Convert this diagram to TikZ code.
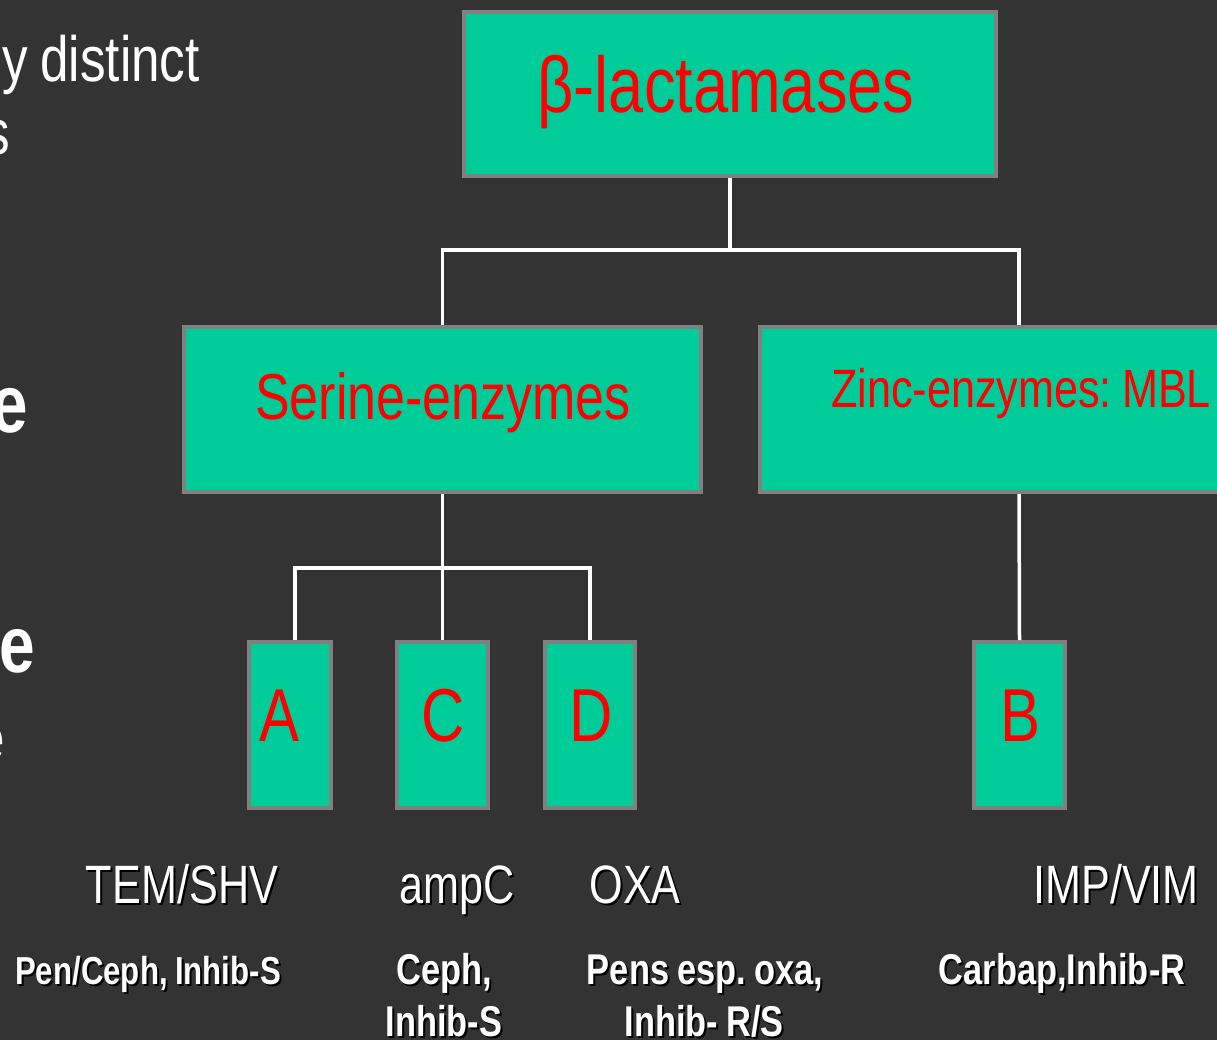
\documentclass[tikz,border=0pt]{standalone}
\usepackage{fontspec}
\setmainfont[FakeStretch=0.8,WordSpace=0.85]{Liberation Sans}
\definecolor{bg}{HTML}{333333}
\definecolor{boxfill}{HTML}{00CC99}
\definecolor{boxline}{HTML}{808080}
\definecolor{txtred}{HTML}{FF0000}
\newcommand\fs[1]{\fontsize{#1}{#1}\selectfont}
\newcommand\shd[1]{\makebox[0pt][l]{\hspace{2pt}\raisebox{-2pt}{\color{black}#1}}#1}
\frenchspacing
\begin{document}
\begin{tikzpicture}[x=1pt,y=-1pt,
  bx/.style={draw=boxline,line width=4pt,fill=boxfill,inner sep=0pt},
  conn/.style={draw=white,line width=3.5pt},
  redtxt/.style={text=txtred,inner sep=0pt,anchor=base},
  lbl/.style={text=white,inner sep=0pt,anchor=base,font=\fs{54}},
  blbl/.style={text=white,inner sep=0pt,anchor=base,font=\fs{43}\bfseries},
  frag/.style={text=white,inner sep=0pt,anchor=base east}]
\fill[bg] (0,0) rectangle (1217,1040);
\useasboundingbox (0,0) rectangle (1217,1040);
\clip (0,0) rectangle (1217,1040);

% cut-off text at the left edge
\node[frag,font=\fs{64}] (f1) at (200,82) {y distinct};
\node[frag,font=\fs{64}] (f2) at (10,155) {s};
\node[frag,font=\fs{82}\bfseries] (f3) at (28,432) {e};
\node[frag,font=\fs{80}\bfseries] (f4) at (35,672) {e};
\node[frag,font=\fs{64}] (f5) at (5,760) {e};

% boxes
\node[bx,minimum width=532pt,minimum height=164pt] (top) at (730,94) {};
\node[bx,minimum width=517pt,minimum height=165pt] (ser) at (442.5,409.5) {};
\node[bx,minimum width=518pt,minimum height=165pt] (zinc) at (1019,409.5) {};
\node[bx,minimum width=82pt,minimum height=166pt] (A) at (290,725) {};
\node[bx,minimum width=91pt,minimum height=166pt] (C) at (442.5,725) {};
\node[bx,minimum width=90pt,minimum height=166pt] (D) at (590,725) {};
\node[bx,minimum width=91pt,minimum height=166pt] (B) at (1019.5,725) {};

% connectors
\draw[conn] (top.south) -- (top.south |- 0,250);
\draw[conn] (ser.north) -- (ser.north |- 0,250) -| (zinc.north);
\draw[conn] (ser.south) -- (C.north);
\draw[conn] ([xshift=5pt]A.north) -- ([xshift=5pt]A.north |- 0,568) -| (D.north);
\draw[conn] (zinc.south) -- (B.north);

% box texts
\node[redtxt,font=\fs{79}] (toptxt) at (726,113) {β-lactamases};
\node[redtxt,font=\fs{65}] (sertxt) at (443,419) {Serine-enzymes};
\node[redtxt,font=\fs{54}] (zinctxt) at (1021,407) {Zinc-enzymes: MBL};
\node[redtxt,font=\fs{75}] (Atxt) at (280,741) {A};
\node[redtxt,font=\fs{75}] (Ctxt) at (443,741) {C};
\node[redtxt,font=\fs{75}] (Dtxt) at (591,741) {D};
\node[redtxt,font=\fs{75}] (Btxt) at (1020,741) {B};

% family labels
\node[lbl] (tem) at (182,903) {\shd{TEM/SHV}};
\node[lbl] (ampc) at (457,903) {\shd{ampC}};
\node[lbl] (oxa) at (635,903) {\shd{OXA}};
\node[lbl] (imp) at (1116,903) {\shd{IMP/VIM}};

% substrate labels
\node[blbl,font=\fs{39}\bfseries] (penceph) at (148,984) {\shd{Pen/Ceph, Inhib-S}};
\node[blbl] (ceph1) at (444,984) {\shd{Ceph,}};
\node[blbl] (ceph2) at (444,1036) {\shd{Inhib-S}};
\node[blbl] (pens1) at (705,984) {\shd{Pens esp. oxa,}};
\node[blbl] (pens2) at (704,1036) {\shd{Inhib- R/S}};
\node[blbl] (carb) at (1062,984) {\shd{Carbap,Inhib-R}};
\end{tikzpicture}
\end{document}
